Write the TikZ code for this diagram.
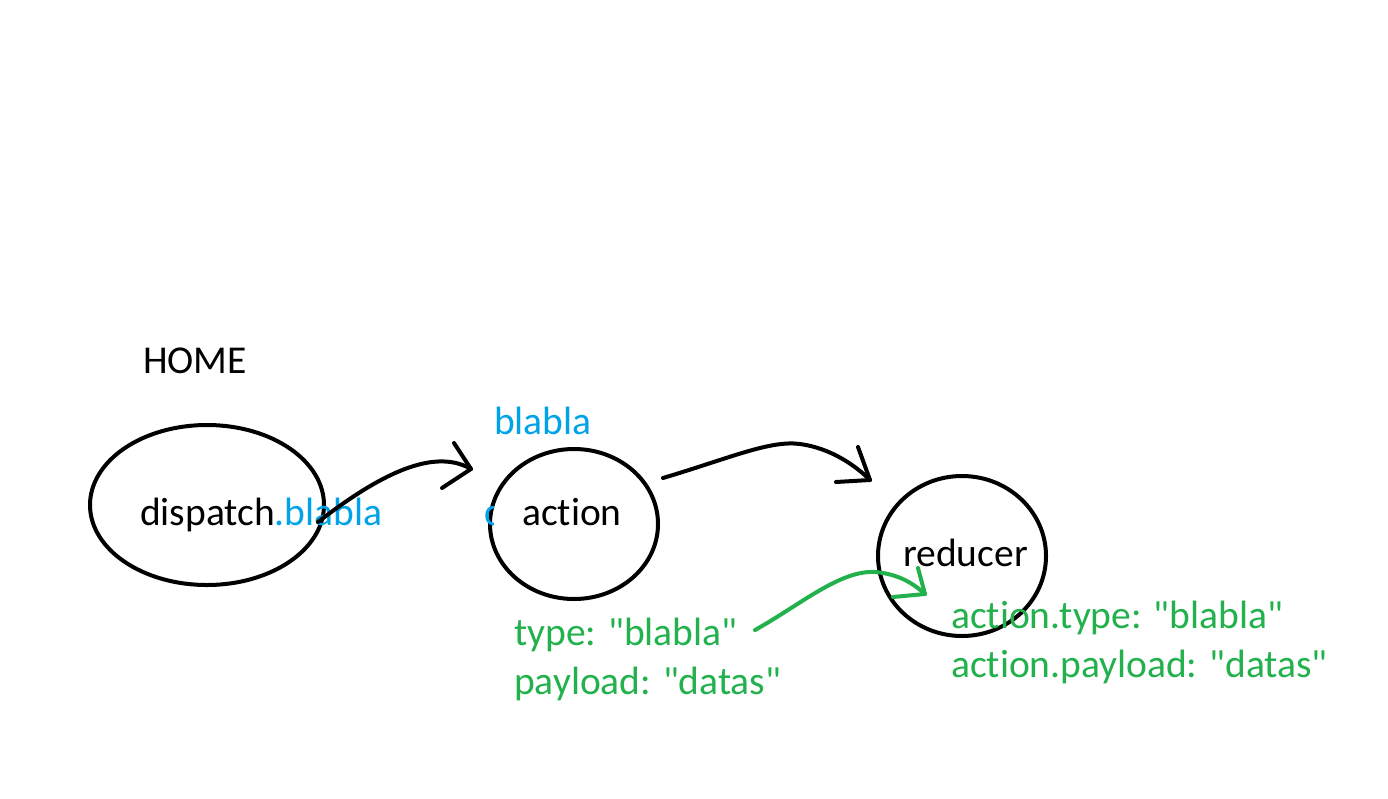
\documentclass[tikz,border=0pt]{standalone}
\usepackage{fontspec}
\setmainfont{Carlito}[Ligatures={TeXOff,CommonOff}]
\usetikzlibrary{shapes.geometric}
\definecolor{pblue}{RGB}{0,162,232}
\definecolor{pgreen}{RGB}{34,177,76}
\tikzset{
  blob/.style={draw=black, line width=4pt, ellipse, inner sep=0pt},
  lbl/.style={anchor=base west, inner sep=0pt, font=\fontsize{39.5}{47}\selectfont},
  pen/.style={line width=4pt, line cap=round, line join=round},
}
\begin{document}
\begin{tikzpicture}[x=1pt,y=-1pt]
\useasboundingbox[fill=white] (0,0) rectangle (1388,798);
% circles
\node[blob, minimum width=234pt, minimum height=160pt] (disp) at (207,505) {};
\node[blob, minimum width=168pt, minimum height=150pt] (act) at (574,524) {};
\node[blob, minimum width=168pt, minimum height=160pt] (red) at (962,556) {};
% texts
\node[lbl] (home) at (143,373) {HOME};
\node[lbl] (dtxt) at (140,525) {dispatch\textcolor{pblue}{.blabla}};
\begin{scope}
\clip (483,490) rectangle (493,540);
\node[lbl, text=pblue] (frag) at (484,525) {c};
\end{scope}
\node[lbl] (atxt) at (522,525) {action};
\node[lbl, text=pblue] (bl) at (494,434) {blabla};
\node[lbl] (rtxt) at (903,566) {reducer};
\node[lbl, text=pgreen] (t1) at (514,645) {type: "blabla"};
\node[lbl, text=pgreen] (t2) at (514,694) {payload: "datas"};
\node[lbl, text=pgreen] (t3) at (951,628) {action.type: "blabla"};
\node[lbl, text=pgreen] (t4) at (951,677) {action.payload: "datas"};
% connector coordinates
\coordinate (s1) at (318,522);
\coordinate (e1) at (471,469);
\coordinate (s2) at (663,478);
\coordinate (p2) at (800,444);
\coordinate (e2) at (870,480);
\coordinate (s3) at (755,630);
\coordinate (p3) at (875,572);
\coordinate (e3) at (925,594);
% arrow 1
\draw[pen] (s1) .. controls (370,482) and (430,445) .. (e1);
\draw[pen] (454,443) -- (e1) -- (442,488);
% arrow 2
\draw[pen] (s2) .. controls (730,458) and (770,440) .. (p2) .. controls (830,448) and (855,465) .. (e2);
\draw[pen] (858,447) -- (e2) -- (836,482);
% green arrow
\draw[pen, pgreen] (s3) .. controls (800,605) and (840,570) .. (p3) .. controls (900,574) and (915,585) .. (e3);
\draw[pen, pgreen] (918,568) -- (e3) -- (893,597);
\end{tikzpicture}
\end{document}
